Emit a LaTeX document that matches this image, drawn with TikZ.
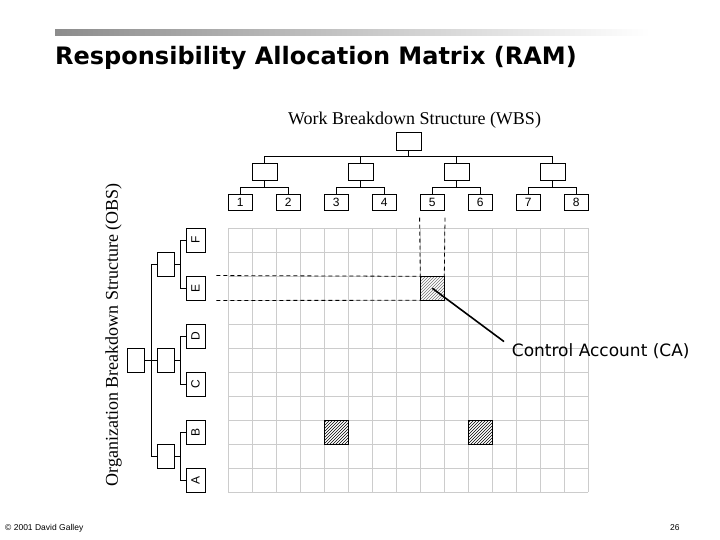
\documentclass[tikz,border=0pt]{standalone}
\usepackage{fontspec}
\usepackage{graphicx}
\setmainfont{Liberation Serif}
\setsansfont{Liberation Sans}
\newfontfamily\ramfont{DejaVu Sans}
\usepackage{tikz}
\usetikzlibrary{patterns}
\usetikzlibrary{positioning}
\tikzset{>=stealth}
\tikzset{
  box/.style={draw,line width=0.9pt,inner sep=0pt,minimum width=25pt,minimum height=16.5pt},
  wp/.style={box,minimum width=24.5pt,font=\sffamily\fontsize{12}{12}\selectfont},
  org/.style={box,minimum width=17pt,minimum height=24pt},
  unit/.style={box,minimum width=19pt,minimum height=24pt,font=\sffamily\fontsize{12}{12}\selectfont},
  cell/.style={draw,line width=0.9pt,minimum size=24pt,inner sep=0pt,pattern=north east lines},
  drop/.style={to path={-- ++(0,#1) -| (\tikztotarget)}},
  side/.style={to path={-- ++(#1,0) |- (\tikztotarget)}},
  guide/.style={line width=0.8pt,dash pattern=on 4pt off 3pt}
}
\newcommand{\up}[1]{\rotatebox{90}{#1}}

\begin{document}
\begin{tikzpicture}[x=1pt,y=-1pt]
  \useasboundingbox (0,0) rectangle (720,540);
  \shade[left color=black!45,right color=white] (55,30) rectangle (650,36);
  \node[anchor=base west,inner sep=0pt,font=\ramfont\bfseries\fontsize{24}{24}\selectfont] (title) at (55,65) {Responsibility Allocation Matrix (RAM)};
  \node[font=\fontsize{18}{18}\selectfont] (wbs) at (414.5,120) {Work Breakdown Structure (WBS)};
  \node[rotate=90,font=\fontsize{18}{18}\selectfont] (obs) at (113.5,335) {Organization Breakdown Structure (OBS)};

  % matrix
  \begin{scope}[shift={(228.3,228.3)}]
    \draw[black!20,line width=0.75pt,step=24pt] (0,264) grid (360,0);
  \end{scope}

  % WBS
  \node[box,minimum height=18pt] (w0) at (408.5,141) {};
  \node[box] (w1) at (264.5,172) {};
  \node[box] (w2) at (360.5,172) {};
  \node[box] (w3) at (456.5,172) {};
  \node[box] (w4) at (552.5,172) {};
  \node[wp] (l1) at (240.3,202.5) {1};
  \node[wp] (l2) at (288.3,202.5) {2};
  \node[wp] (l3) at (336.3,202.5) {3};
  \node[wp] (l4) at (384.3,202.5) {4};
  \node[wp] (l5) at (432.3,202.5) {5};
  \node[wp] (l6) at (480.3,202.5) {6};
  \node[wp] (l7) at (528.3,202.5) {7};
  \node[wp] (l8) at (576.3,202.5) {8};
  \path[line width=0.9pt]
    (w0.south) edge[drop=5.7] (w1.north) edge[drop=5.7] (w2.north)
               edge[drop=5.7] (w3.north) edge[drop=5.7] (w4.north)
    (w1.south) edge[drop=6.7] (l1.north) edge[drop=6.7] (l2.north)
    (w2.south) edge[drop=6.7] (l3.north) edge[drop=6.7] (l4.north)
    (w3.south) edge[drop=6.7] (l5.north) edge[drop=6.7] (l6.north)
    (w4.south) edge[drop=6.7] (l7.north) edge[drop=6.7] (l8.north);

  % OBS
  \node[org] (o0) at (135.5,360) {};
  \node[org] (o1) at (165.5,264) {};
  \node[org] (o2) at (165.5,360) {};
  \node[org] (o3) at (165.5,456) {};
  \node[unit] (uF) at (195.5,240) {\up{F}};
  \node[unit] (uE) at (195.5,288) {\up{E}};
  \node[unit] (uD) at (195.5,336) {\up{D}};
  \node[unit] (uC) at (195.5,384) {\up{C}};
  \node[unit] (uB) at (195.5,432) {\up{B}};
  \node[unit] (uA) at (195.5,480) {\up{A}};
  \path[line width=0.9pt]
    (o0.east) edge[side=6.7] (o1.west) edge (o2.west) edge[side=6.7] (o3.west)
    (o1.east) edge[side=6] (uF.west) edge[side=6] (uE.west)
    (o2.east) edge[side=6] (uD.west) edge[side=6] (uC.west)
    (o3.east) edge[side=6] (uB.west) edge[side=6] (uA.west);

  % control account
  \draw[guide] ([yshift=-6.5pt]l5.south west) -- (432.3-12,276.3) coordinate (cw);
  \draw[guide] ([yshift=-6.5pt]l5.south east) -- (432.3+12,276.3) coordinate (ce);
  \draw[guide] ([xshift=11pt]uE.north east) -- (cw);
  \draw[guide] ([xshift=11pt]uE.south east) -- (420.3,300.3);
  \node[cell,pattern color=black!55] (ca) at (432.3,288.3) {};
  \node[cell] (h1) at (336.3,432.3) {};
  \node[cell] (h2) at (480.3,432.3) {};
  \node[anchor=base west,inner sep=0pt,font=\ramfont\fontsize{17}{17}\selectfont] (calabel) at (511.7,356.7) {Control Account (CA)};
  \draw[line width=1.6pt] (ca.center) -- ([xshift=-7.7pt,yshift=2pt]calabel.north west);

  \node[anchor=base west,inner sep=0pt,font=\sffamily\fontsize{8.5}{8.5}\selectfont] (copy) at (5,530) {© 2001 David Galley};
  \node[anchor=base west,inner sep=0pt,font=\sffamily\fontsize{8.5}{8.5}\selectfont] (page) at (670,530) {26};
\end{tikzpicture}
\end{document}
